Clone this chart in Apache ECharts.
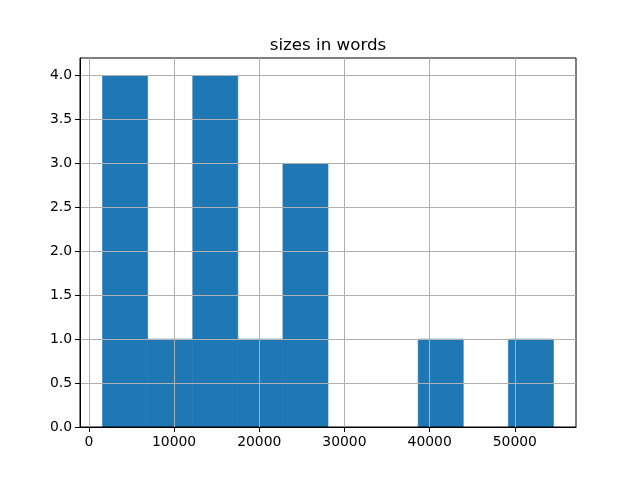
<!DOCTYPE html>
<html>
<head>
<meta charset="utf-8">
<script src="https://cdn.jsdelivr.net/npm/echarts@6/dist/echarts.min.js"></script>
<style>html,body{margin:0;padding:0;background:#fff}#c{width:640px;height:480px}</style>
</head>
<body>
<div id="c"></div>
<script>
var binStart = 1602;
var binEnd = 54535;
var counts = [4, 1, 4, 1, 3, 0, 0, 1, 0, 1];
var xTicks = [0, 10000, 20000, 30000, 40000, 50000];
var yTicks = [0, 0.5, 1.0, 1.5, 2.0, 2.5, 3.0, 3.5, 4.0];
var titleText = 'sizes in words';

var binW = (binEnd - binStart) / counts.length;
var data = counts.map(function (c, i) {
  return [binStart + i * binW, binStart + (i + 1) * binW, c];
});
var pad = (binEnd - binStart) * 0.05;
var yMax = Math.max.apply(null, counts) * 1.05;

var chart = echarts.init(document.getElementById('c'), null, {renderer: 'canvas'});
var font = 'DejaVu Sans';
chart.setOption({
  animation: false,
  title: {
    text: titleText, left: 323, top: 32, textAlign: 'center',
    textStyle: {fontFamily: font, fontSize: 16.7, fontWeight: 'normal', color: '#000'}
  },
  grid: {left: 80, right: 64, top: 58, bottom: 53, show: true, borderColor: '#000', borderWidth: 1, backgroundColor: 'transparent', z: 3},
  xAxis: {
    type: 'value', min: binStart - pad, max: binEnd + pad, z: 3,
    axisLine: {show: true, onZero: false, lineStyle: {color: '#000', width: 1}},
    axisTick: {show: true, customValues: xTicks, length: 5, lineStyle: {color: '#000'}},
    axisLabel: {customValues: xTicks, color: '#000', fontFamily: font, fontSize: 13.9, margin: 8,
      formatter: function (v) { return String(Math.round(v)); }},
    splitLine: {show: true, lineStyle: {color: '#b0b0b0', width: 1}}
  },
  yAxis: {
    type: 'value', min: 0, max: yMax, z: 3,
    axisLine: {show: true, onZero: false, lineStyle: {color: '#000', width: 1}},
    axisTick: {show: true, customValues: yTicks, length: 5, lineStyle: {color: '#000'}},
    axisLabel: {customValues: yTicks, color: '#000', fontFamily: font, fontSize: 13.9, margin: 8,
      formatter: function (v) { return v.toFixed(1); }},
    splitLine: {show: true, lineStyle: {color: '#b0b0b0', width: 1}}
  },
  series: [{
    type: 'custom', z: 1,
    renderItem: function (params, api) {
      if (!(api.value(2) > 0)) { return null; }
      var p0 = api.coord([api.value(0), 0]);
      var p1 = api.coord([api.value(1), api.value(2)]);
      return {
        type: 'rect',
        shape: {x: p0[0], y: p1[1], width: p1[0] - p0[0], height: p0[1] - p1[1]},
        style: {fill: '#1f77b4', stroke: '#1f77b4', lineWidth: 0.6}
      };
    },
    encode: {x: [0, 1], y: 2},
    data: data
  }]
});
</script>
</body>
</html>
